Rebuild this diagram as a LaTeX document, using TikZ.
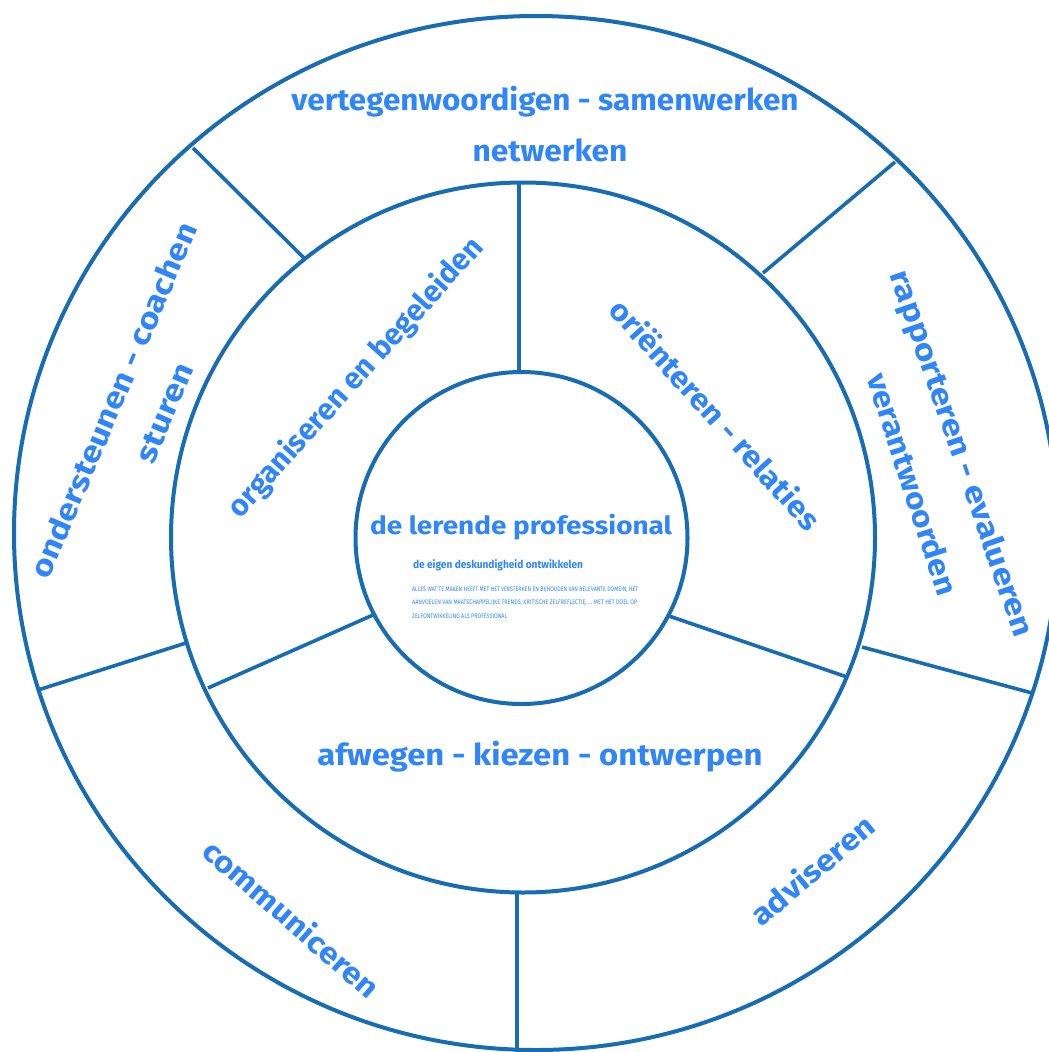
\documentclass[tikz,border=0pt]{standalone}
\usepackage{fontspec}
\usepackage{graphicx}
\setmainfont{Fira Sans}
\newcommand{\fitw}[2]{\resizebox{#1pt}{\height}{#2}}
\definecolor{linec}{RGB}{24,108,178}
\definecolor{textc}{RGB}{48,134,248}
\tikzset{
  ring/.style={draw=linec, line width=4pt},
  spoke/.style={draw=linec, line width=3.6pt},
  big/.style={text=textc, inner sep=0pt, font=\fontsize{30}{34}\selectfont\bfseries},
  mid/.style={text=textc, inner sep=0pt, font=\fontsize{25}{28}\selectfont\bfseries},
  small/.style={text=textc, inner sep=0pt, font=\fontsize{11}{13}\selectfont\bfseries},
  tiny/.style={text=textc, inner sep=0pt, anchor=west, font=\fontsize{6.5}{8}\selectfont}
}
\begin{document}
\begin{tikzpicture}[x=1pt,y=-1pt]
\useasboundingbox (0,0) rectangle (1049,1052);
\clip (0,0) rectangle (1049,1052);
\fill[white] (0,0) rectangle (1049,1052);
% rings
\draw[ring] (536,533) ellipse [x radius=522, y radius=517];
\draw[ring] (523,537.5) ellipse [x radius=352, y radius=355];
\draw[ring] (521.5,538) circle [radius=166];
% spoke end points
\coordinate (ulO) at (193,148);  \coordinate (ulM) at (304,258);
\coordinate (urO) at (895,162);  \coordinate (urM) at (763,273);
\coordinate (lO) at (38,690);    \coordinate (lM) at (186,643);
\coordinate (rO) at (1032,693);  \coordinate (rM) at (862,647);
\coordinate (bO) at (517,1056);  \coordinate (bM) at (517,892);
\coordinate (tM) at (519,183);   \coordinate (tI) at (519,372);
\coordinate (llM) at (208,688);  \coordinate (llI) at (373,615);
\coordinate (lrM) at (847,677);  \coordinate (lrI) at (669,616);
\draw[spoke] (ulO) -- (ulM);
\draw[spoke] (urO) -- (urM);
\draw[spoke] (lO) -- (lM);
\draw[spoke] (rO) -- (rM);
\draw[spoke] (bO) -- (bM);
\draw[spoke] (tM) -- (tI);
\draw[spoke] (llM) -- (llI);
\draw[spoke] (lrM) -- (lrI);
% outer ring labels
\node[big] (t1) at (545,102) {\fitw{507}{vertegenwoordigen - samenwerken}};
\node[big] (t2) at (550,150) {\fitw{155}{netwerken}};
\node[big, rotate=67] (l1) at (113,400) {\fitw{382}{ondersteunen - coachen}};
\node[big, rotate=67] (l2) at (165,413) {\fitw{105}{sturen}};
\node[big, rotate=-71] (r1) at (960,454) {\fitw{385}{rapporteren - evalueren}};
\node[big, rotate=-72] (r2) at (913,484) {\fitw{232}{verantwoorden}};
\node[big, rotate=-41] (c1) at (292,918) {\fitw{222}{communiceren}};
\node[big, rotate=40] (a1) at (812,870) {\fitw{152}{adviseren}};
% middle ring labels
\node[big, rotate=48] (o1) at (356,378) {\fitw{365}{organiseren en begeleiden}};
\node[big, rotate=-48] (o2) at (716,414) {\fitw{298}{oriënteren - relaties}};
\node[big] (k1) at (540,757) {\fitw{445}{afwegen - kiezen - ontwerpen}};
% centre
\node[mid] (c0) at (521,527) {\fitw{302}{de lerende professional}};
\node[small] (c2) at (498,565) {\fitw{170}{de eigen deskundigheid ontwikkelen}};
\node[tiny] (d1) at (412,590) {\fitw{226}{ALLES WAT TE MAKEN HEEFT MET HET VERSTERKEN EN BIJHOUDEN VAN RELEVANTE DOMEIN, HET}};
\node[tiny] (d2) at (412,603) {\fitw{225}{AANVOELEN VAN MAATSCHAPPELIJKE TRENDS, KRITISCHE ZELFREFLECTIE, ... MET HET DOEL OP}};
\node[tiny] (d3) at (412,616) {\fitw{95}{ZELFONTWIKKELING ALS PROFESSIONAL}};
\end{tikzpicture}
\end{document}
